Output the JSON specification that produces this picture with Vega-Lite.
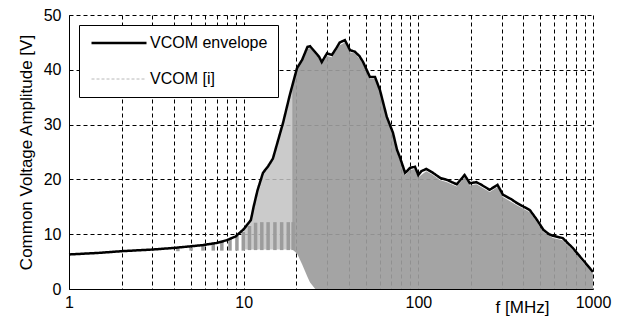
{
  "$schema": "https://vega.github.io/schema/vega-lite/v6.json",
  "width": 524,
  "height": 274,
  "autosize": {"type": "none"},
  "padding": {"left": 69, "top": 15, "right": 33, "bottom": 31},
  "background": "white",
  "config": {
    "view": {"stroke": null},
    "font": "Liberation Sans",
    "axis": {
      "grid": true,
      "gridColor": "black",
      "gridOpacity": 1,
      "gridDash": [4, 3],
      "gridWidth": 1,
      "domainColor": "black",
      "domainWidth": 1,
      "ticks": false,
      "labelFont": "Liberation Sans",
      "labelFontSize": 16,
      "labelColor": "black",
      "titleFont": "Liberation Sans",
      "titleFontSize": 17,
      "titleFontWeight": "normal",
      "titleColor": "black"
    },
    "legend": {
      "title": null,
      "orient": "top-left",
      "offset": 10,
      "fillColor": "white",
      "strokeColor": "black",
      "padding": 10,
      "symbolType": "M-1,0H9",
      "symbolSize": 121,
      "labelFont": "Liberation Sans",
      "labelFontSize": 16,
      "labelColor": "black",
      "labelOffset": 45,
      "rowPadding": 20
    }
  },
  "datasets": {
    "envelope": [
      {"f": 1, "v": 6.3, "series": "VCOM envelope"},
      {"f": 1.5, "v": 6.6, "series": "VCOM envelope"},
      {"f": 2, "v": 6.9, "series": "VCOM envelope"},
      {"f": 3, "v": 7.2, "series": "VCOM envelope"},
      {"f": 4, "v": 7.5, "series": "VCOM envelope"},
      {"f": 5, "v": 7.8, "series": "VCOM envelope"},
      {"f": 5.8, "v": 8.0, "series": "VCOM envelope"},
      {"f": 7, "v": 8.4, "series": "VCOM envelope"},
      {"f": 8, "v": 8.9, "series": "VCOM envelope"},
      {"f": 9, "v": 9.6, "series": "VCOM envelope"},
      {"f": 10, "v": 10.9, "series": "VCOM envelope"},
      {"f": 11, "v": 12.6, "series": "VCOM envelope"},
      {"f": 11.4, "v": 15, "series": "VCOM envelope"},
      {"f": 12, "v": 18, "series": "VCOM envelope"},
      {"f": 12.9, "v": 21.2, "series": "VCOM envelope"},
      {"f": 13.8, "v": 22.4, "series": "VCOM envelope"},
      {"f": 14.7, "v": 23.8, "series": "VCOM envelope"},
      {"f": 16.8, "v": 30.3, "series": "VCOM envelope"},
      {"f": 18.4, "v": 35.5, "series": "VCOM envelope"},
      {"f": 20.2, "v": 40.3, "series": "VCOM envelope"},
      {"f": 21.6, "v": 41.8, "series": "VCOM envelope"},
      {"f": 23.2, "v": 44.2, "series": "VCOM envelope"},
      {"f": 24, "v": 44.3, "series": "VCOM envelope"},
      {"f": 25.7, "v": 43.2, "series": "VCOM envelope"},
      {"f": 27, "v": 42.4, "series": "VCOM envelope"},
      {"f": 28, "v": 41.4, "series": "VCOM envelope"},
      {"f": 30, "v": 43, "series": "VCOM envelope"},
      {"f": 32, "v": 42.7, "series": "VCOM envelope"},
      {"f": 34, "v": 44, "series": "VCOM envelope"},
      {"f": 35.5, "v": 45, "series": "VCOM envelope"},
      {"f": 38, "v": 45.4, "series": "VCOM envelope"},
      {"f": 40.6, "v": 43.6, "series": "VCOM envelope"},
      {"f": 43.3, "v": 43.3, "series": "VCOM envelope"},
      {"f": 46, "v": 42.5, "series": "VCOM envelope"},
      {"f": 48.3, "v": 41.4, "series": "VCOM envelope"},
      {"f": 52.8, "v": 38.7, "series": "VCOM envelope"},
      {"f": 56.5, "v": 38.7, "series": "VCOM envelope"},
      {"f": 60.3, "v": 36.3, "series": "VCOM envelope"},
      {"f": 66, "v": 31.4, "series": "VCOM envelope"},
      {"f": 71.6, "v": 28.5, "series": "VCOM envelope"},
      {"f": 75.5, "v": 25.4, "series": "VCOM envelope"},
      {"f": 78.5, "v": 24, "series": "VCOM envelope"},
      {"f": 84, "v": 21.2, "series": "VCOM envelope"},
      {"f": 86, "v": 21.5, "series": "VCOM envelope"},
      {"f": 89.6, "v": 22.1, "series": "VCOM envelope"},
      {"f": 95.7, "v": 22.3, "series": "VCOM envelope"},
      {"f": 100, "v": 20.8, "series": "VCOM envelope"},
      {"f": 104, "v": 21.5, "series": "VCOM envelope"},
      {"f": 111, "v": 21.9, "series": "VCOM envelope"},
      {"f": 120, "v": 21.3, "series": "VCOM envelope"},
      {"f": 133, "v": 20.3, "series": "VCOM envelope"},
      {"f": 146, "v": 19.9, "series": "VCOM envelope"},
      {"f": 166, "v": 19.1, "series": "VCOM envelope"},
      {"f": 184, "v": 20.8, "series": "VCOM envelope"},
      {"f": 197, "v": 19.3, "series": "VCOM envelope"},
      {"f": 215, "v": 19.5, "series": "VCOM envelope"},
      {"f": 230, "v": 19.0, "series": "VCOM envelope"},
      {"f": 256, "v": 18.1, "series": "VCOM envelope"},
      {"f": 284, "v": 19.0, "series": "VCOM envelope"},
      {"f": 305, "v": 17.2, "series": "VCOM envelope"},
      {"f": 340, "v": 16.4, "series": "VCOM envelope"},
      {"f": 366, "v": 15.7, "series": "VCOM envelope"},
      {"f": 435, "v": 14.4, "series": "VCOM envelope"},
      {"f": 478, "v": 12.6, "series": "VCOM envelope"},
      {"f": 520, "v": 10.8, "series": "VCOM envelope"},
      {"f": 560, "v": 10.0, "series": "VCOM envelope"},
      {"f": 590, "v": 9.7, "series": "VCOM envelope"},
      {"f": 670, "v": 9.3, "series": "VCOM envelope"},
      {"f": 765, "v": 7.5, "series": "VCOM envelope"},
      {"f": 875, "v": 5.3, "series": "VCOM envelope"},
      {"f": 1000, "v": 3.1, "series": "VCOM envelope"}
    ],
    "band": [
      {"part": "light", "f": 10, "hi": 10.8, "lo": 7.2},
      {"part": "light", "f": 11, "hi": 12.5, "lo": 7.2},
      {"part": "light", "f": 11.4, "hi": 15, "lo": 7.2},
      {"part": "light", "f": 12, "hi": 18, "lo": 7.2},
      {"part": "light", "f": 12.9, "hi": 21.2, "lo": 7.2},
      {"part": "light", "f": 13.8, "hi": 22.4, "lo": 7.2},
      {"part": "light", "f": 14.7, "hi": 23.8, "lo": 7.2},
      {"part": "light", "f": 16.8, "hi": 30.3, "lo": 7.2},
      {"part": "light", "f": 18.4, "hi": 35.5, "lo": 7.2},
      {"part": "light", "f": 19.5, "hi": 38.5, "lo": 7.2},
      {"part": "dense", "f": 19, "hi": 36.5, "lo": 7.2},
      {"part": "dense", "f": 20.2, "hi": 40, "lo": 6.5},
      {"part": "dense", "f": 21.6, "hi": 41.5, "lo": 4.5},
      {"part": "dense", "f": 23.2, "hi": 43.8, "lo": 2.2},
      {"part": "dense", "f": 24, "hi": 44, "lo": 1.2},
      {"part": "dense", "f": 25.7, "hi": 43, "lo": 0},
      {"part": "dense", "f": 27, "hi": 42, "lo": 0},
      {"part": "dense", "f": 28, "hi": 41, "lo": 0},
      {"part": "dense", "f": 30, "hi": 42.5, "lo": 0},
      {"part": "dense", "f": 32, "hi": 42.3, "lo": 0},
      {"part": "dense", "f": 34, "hi": 43.6, "lo": 0},
      {"part": "dense", "f": 35.5, "hi": 44.5, "lo": 0},
      {"part": "dense", "f": 38, "hi": 45, "lo": 0},
      {"part": "dense", "f": 40.6, "hi": 43.2, "lo": 0},
      {"part": "dense", "f": 43.3, "hi": 43, "lo": 0},
      {"part": "dense", "f": 46, "hi": 42, "lo": 0},
      {"part": "dense", "f": 48.3, "hi": 41, "lo": 0},
      {"part": "dense", "f": 52.8, "hi": 38.3, "lo": 0},
      {"part": "dense", "f": 56.5, "hi": 38.3, "lo": 0},
      {"part": "dense", "f": 60.3, "hi": 36, "lo": 0},
      {"part": "dense", "f": 66, "hi": 31, "lo": 0},
      {"part": "dense", "f": 71.6, "hi": 28, "lo": 0},
      {"part": "dense", "f": 75.5, "hi": 25, "lo": 0},
      {"part": "dense", "f": 78.5, "hi": 23.6, "lo": 0},
      {"part": "dense", "f": 84, "hi": 20.8, "lo": 0},
      {"part": "dense", "f": 89.6, "hi": 21.7, "lo": 0},
      {"part": "dense", "f": 95.7, "hi": 21.9, "lo": 0},
      {"part": "dense", "f": 100, "hi": 20.4, "lo": 0},
      {"part": "dense", "f": 111, "hi": 21.5, "lo": 0},
      {"part": "dense", "f": 120, "hi": 20.9, "lo": 0},
      {"part": "dense", "f": 133, "hi": 19.9, "lo": 0},
      {"part": "dense", "f": 146, "hi": 19.5, "lo": 0},
      {"part": "dense", "f": 166, "hi": 18.7, "lo": 0},
      {"part": "dense", "f": 184, "hi": 20.4, "lo": 0},
      {"part": "dense", "f": 197, "hi": 18.9, "lo": 0},
      {"part": "dense", "f": 215, "hi": 19.1, "lo": 0},
      {"part": "dense", "f": 256, "hi": 17.7, "lo": 0},
      {"part": "dense", "f": 284, "hi": 18.6, "lo": 0},
      {"part": "dense", "f": 305, "hi": 16.8, "lo": 0},
      {"part": "dense", "f": 366, "hi": 15.3, "lo": 0},
      {"part": "dense", "f": 435, "hi": 14, "lo": 0},
      {"part": "dense", "f": 478, "hi": 12.2, "lo": 0},
      {"part": "dense", "f": 520, "hi": 10.4, "lo": 0},
      {"part": "dense", "f": 590, "hi": 9.3, "lo": 0},
      {"part": "dense", "f": 670, "hi": 8.9, "lo": 0},
      {"part": "dense", "f": 765, "hi": 7.1, "lo": 0},
      {"part": "dense", "f": 875, "hi": 4.9, "lo": 0},
      {"part": "dense", "f": 1000, "hi": 2.8, "lo": 0}
    ],
    "comb": [
      {"f": 4.2, "lo": 6.9, "hi": 7.4},
      {"f": 5.0, "lo": 7.0, "hi": 7.6},
      {"f": 5.85, "lo": 7.0, "hi": 7.9},
      {"f": 6.7, "lo": 7.0, "hi": 8.2},
      {"f": 7.5, "lo": 7.0, "hi": 8.6},
      {"f": 8.35, "lo": 7.0, "hi": 9.1},
      {"f": 9.15, "lo": 7.0, "hi": 9.7},
      {"f": 9.95, "lo": 7.0, "hi": 10.4},
      {"f": 10.8, "lo": 7.1, "hi": 11.5},
      {"f": 11.7, "lo": 7.1, "hi": 12.1},
      {"f": 12.7, "lo": 7.1, "hi": 12.2},
      {"f": 13.8, "lo": 7.1, "hi": 12.2},
      {"f": 15.1, "lo": 7.1, "hi": 12.2},
      {"f": 16.5, "lo": 7.1, "hi": 12.2},
      {"f": 18.0, "lo": 7.1, "hi": 12.2},
      {"f": 19.2, "lo": 7.1, "hi": 12.2}
    ]
  },
  "layer": [
    {
      "data": {"name": "band"},
      "transform": [{"filter": "datum.part === 'light'"}],
      "mark": {"type": "area", "color": "#c2c2c2", "opacity": 0.85},
      "encoding": {
        "x": {"field": "f", "type": "quantitative"},
        "y": {"field": "hi", "type": "quantitative"},
        "y2": {"field": "lo"}
      }
    },
    {
      "data": {"name": "band"},
      "transform": [{"filter": "datum.part === 'dense'"}],
      "mark": {"type": "area", "color": "#9c9c9c", "opacity": 0.92},
      "encoding": {
        "x": {"field": "f", "type": "quantitative"},
        "y": {"field": "hi", "type": "quantitative"},
        "y2": {"field": "lo"}
      }
    },
    {
      "data": {"name": "comb"},
      "mark": {"type": "rule", "color": "#9c9c9c", "strokeWidth": 3.5},
      "encoding": {
        "x": {"field": "f", "type": "quantitative"},
        "y": {"field": "lo", "type": "quantitative"},
        "y2": {"field": "hi"}
      }
    },
    {
      "data": {"name": "envelope"},
      "mark": {"type": "line", "interpolate": "linear"},
      "encoding": {
        "x": {
          "field": "f",
          "type": "quantitative",
          "scale": {"type": "log", "domain": [1, 1000], "nice": false},
          "axis": {
            "values": [1, 2, 3, 4, 5, 6, 7, 8, 9, 10, 20, 30, 40, 50, 60, 70, 80, 90, 100, 200, 300, 400, 500, 600, 700, 800, 900, 1000],
            "labelExpr": "datum.value == 1 || datum.value == 10 || datum.value == 100 || datum.value == 1000 ? datum.label : ''",
            "format": "d",
            "labelPadding": 5,
            "labelOverlap": false,
            "labelFlush": false,
            "title": "f [MHz]",
            "titleX": 453,
            "titleY": 23,
            "titleAlign": "center",
            "titleBaseline": "alphabetic"
          }
        },
        "y": {
          "field": "v",
          "type": "quantitative",
          "scale": {"domain": [0, 50], "nice": false},
          "axis": {
            "values": [0, 10, 20, 30, 40, 50],
            "labelPadding": 8,
            "title": "Common Voltage Amplitude [V]",
            "titlePadding": 8
          }
        },
        "color": {
          "field": "series",
          "type": "nominal",
          "scale": {"domain": ["VCOM envelope", "VCOM [i]"], "range": ["black", "#b8b8b8"]}
        },
        "strokeDash": {
          "field": "series",
          "type": "nominal",
          "scale": {"domain": ["VCOM envelope", "VCOM [i]"], "range": [[1, 0], [3, 2]]}
        },
        "strokeWidth": {
          "field": "series",
          "type": "nominal",
          "scale": {"domain": ["VCOM envelope", "VCOM [i]"], "range": [2.5, 1]}
        }
      }
    }
  ]
}
